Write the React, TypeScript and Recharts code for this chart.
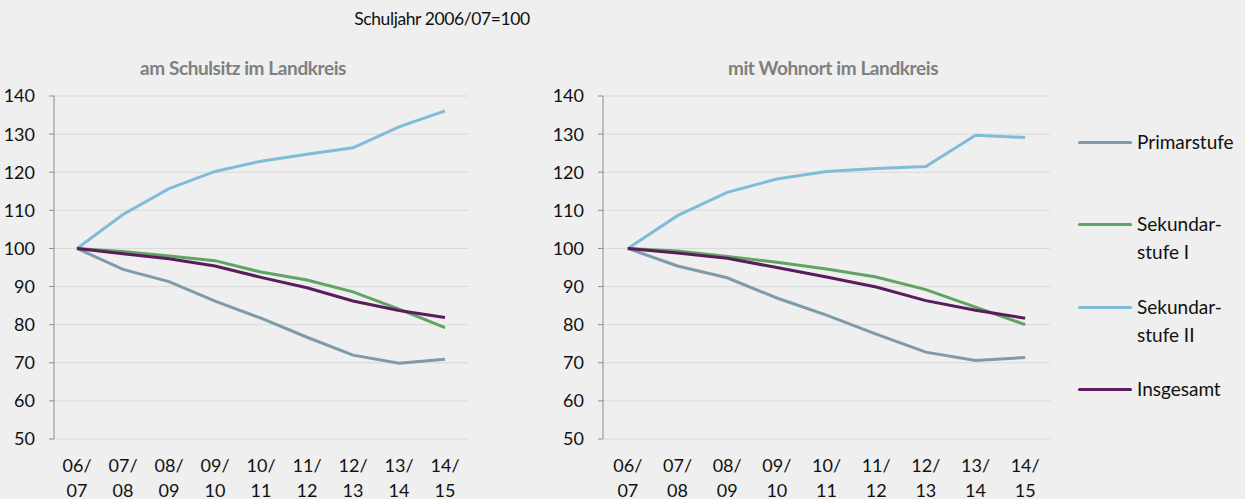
import { LineChart, Line, XAxis, YAxis, CartesianGrid } from "recharts";

const categories = ["06/07", "07/08", "08/09", "09/10", "10/11", "11/12", "12/13", "13/14", "14/15"];
const yTicks = [50, 60, 70, 80, 90, 100, 110, 120, 130, 140];

// am Schulsitz im Landkreis
const sitzPrimar = [100, 94.5, 91.3, 86.2, 81.7, 76.7, 72.0, 69.9, 70.9];
const sitzSek1 = [100, 99.2, 98.0, 96.8, 93.8, 91.7, 88.6, 84.1, 79.2];
const sitzSek2 = [100, 108.9, 115.7, 120.2, 122.9, 124.7, 126.4, 131.9, 136.1];
const sitzGesamt = [100, 98.6, 97.3, 95.4, 92.4, 89.7, 86.2, 83.7, 81.9];

// mit Wohnort im Landkreis
const wohnPrimar = [100, 95.4, 92.3, 87.0, 82.5, 77.5, 72.8, 70.6, 71.4];
const wohnSek1 = [100, 99.3, 97.9, 96.4, 94.6, 92.5, 89.2, 84.6, 80.0];
const wohnSek2 = [100, 108.6, 114.7, 118.2, 120.2, 121.0, 121.5, 129.7, 129.1];
const wohnGesamt = [100, 98.8, 97.4, 95.0, 92.5, 89.9, 86.3, 83.8, 81.7];

const SERIES = [
  { key: "primar", name: ["Primarstufe"], color: "#7f9bab" },
  { key: "sek1", name: ["Sekundar-", "stufe I"], color: "#5fa463" },
  { key: "sek2", name: ["Sekundar-", "stufe II"], color: "#80bcd9" },
  { key: "gesamt", name: ["Insgesamt"], color: "#5b1b5c" },
];
const DRAW_ORDER = ["primar", "sek2", "sek1", "gesamt"];

const sitzData = categories.map((cat, i) => ({
  cat,
  primar: sitzPrimar[i],
  sek1: sitzSek1[i],
  sek2: sitzSek2[i],
  gesamt: sitzGesamt[i],
}));
const wohnData = categories.map((cat, i) => ({
  cat,
  primar: wohnPrimar[i],
  sek1: wohnSek1[i],
  sek2: wohnSek2[i],
  gesamt: wohnGesamt[i],
}));
const edgeTicks = [...categories.map((_, i) => i), categories.length];

const BG = "#eeefee";
const GRID = "#d9d9d9";
const AXIS = "#8c8c8c";
const FONT = "Lato, 'Open Sans', sans-serif";

function XTick({ x, y, payload }: any) {
  const [a, b] = String(payload.value).split("/");
  return (
    <text x={x} y={y} textAnchor="middle" fontSize={18} fill="#111" fontFamily={FONT}>
      <tspan x={x} dy={18}>{a}/</tspan>
      <tspan x={x} dy={25}>{b}</tspan>
    </text>
  );
}

function Panel({ data, yWidth, width, right }: { data: any[]; yWidth: number; width: number; right: number }) {
  return (
    <LineChart width={width} height={499} data={data} margin={{ top: 96, right, bottom: 0, left: 0 }}>
      <CartesianGrid vertical={false} stroke={GRID} xAxisId="cat" yAxisId="v" />
      <XAxis
        xAxisId="edge"
        type="number"
        domain={[0, categories.length]}
        ticks={edgeTicks}
        tick={false}
        height={0}
        tickSize={6}
        stroke={AXIS}
        allowDataOverflow
      />
      <XAxis
        xAxisId="cat"
        dataKey="cat"
        scale="band"
        height={60}
        axisLine={false}
        tickLine={false}
        tickSize={0}
        tickMargin={15}
        tick={<XTick />}
        interval={0}
      />
      <YAxis
        yAxisId="v"
        domain={[50, 140]}
        ticks={yTicks}
        width={yWidth}
        tickSize={5}
        tickMargin={14}
        stroke={AXIS}
        tick={{ fill: "#111", fontSize: 18, fontFamily: FONT }}
        allowDataOverflow
      />
      <YAxis
        yAxisId="rb"
        orientation="right"
        domain={[50, 140]}
        width={0}
        tick={false}
        tickLine={false}
        axisLine={{ stroke: GRID }}
      />
      {DRAW_ORDER.map((k) => {
        const s = SERIES.find((x) => x.key === k)!;
        return (
          <Line
            key={k}
            xAxisId="cat"
            yAxisId="v"
            dataKey={k}
            stroke={s.color}
            strokeWidth={3}
            dot={false}
            type="linear"
            isAnimationActive={false}
          />
        );
      })}
    </LineChart>
  );
}

export default function App() {
  const legendTops = [142, 224, 307, 389];
  return (
    <div
      style={{
        position: "absolute",
        left: 0,
        top: 0,
        width: 1245,
        height: 499,
        background: BG,
        fontFamily: FONT,
        overflow: "hidden",
      }}
    >
      <div style={{ position: "absolute", left: 0, width: 884, top: 8, textAlign: "center", fontSize: 17.5, letterSpacing: -0.4, color: "#111" }}>
        Schuljahr 2006/07=100
      </div>
      <div style={{ position: "absolute", left: 43, width: 400, top: 56, textAlign: "center", fontSize: 19, letterSpacing: -0.4, fontWeight: 700, color: "#808080" }}>
        am Schulsitz im Landkreis
      </div>
      <div style={{ position: "absolute", left: 633, width: 400, top: 56, textAlign: "center", fontSize: 19, letterSpacing: -0.4, fontWeight: 700, color: "#808080" }}>
        mit Wohnort im Landkreis
      </div>
      <div style={{ position: "absolute", left: 0, top: 0 }}>
        <Panel data={sitzData} yWidth={54} width={480} right={12} />
      </div>
      <div style={{ position: "absolute", left: 540, top: 0 }}>
        <Panel data={wohnData} yWidth={63} width={520} right={10} />
      </div>
      {SERIES.map((s, i) => (
        <div key={s.key} style={{ position: "absolute", left: 1078, top: legendTops[i] - 12, display: "flex", alignItems: "flex-start" }}>
          <div style={{ width: 54, height: 3, background: s.color, marginTop: 11, borderRadius: 2 }} />
          <div style={{ marginLeft: 5, fontSize: 19, lineHeight: "28px", color: "#111", marginTop: -2 }}>
            {s.name.map((n) => (
              <div key={n}>{n}</div>
            ))}
          </div>
        </div>
      ))}
    </div>
  );
}
